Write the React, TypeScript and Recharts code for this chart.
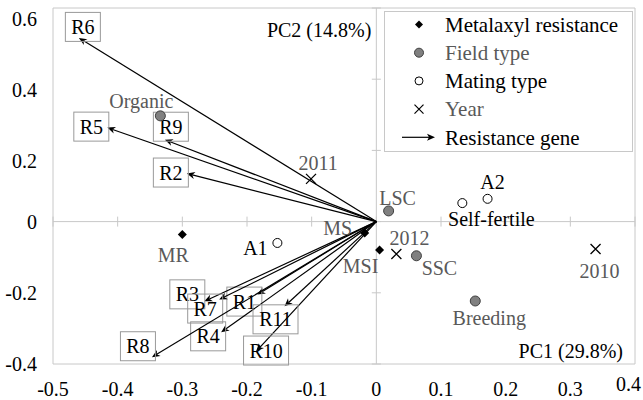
import { ScatterChart, Scatter, XAxis, YAxis, ReferenceLine, ReferenceArea, Legend } from "recharts";

const FONT = "Liberation Serif, DejaVu Serif, serif";
const GRAY_TEXT = "#595959";
const AXIS_GRAY = "#c8c8c8";

const xTicks = [-0.5, -0.4, -0.3, -0.2, -0.1, 0, 0.1, 0.2, 0.3, 0.4];
const yTicks = [-0.4, -0.2, 0, 0.2, 0.4, 0.6];

// resistance gene loadings (arrow tips)
const geneNames = ["R1", "R2", "R3", "R4", "R5", "R6", "R7", "R8", "R9", "R10", "R11"];
const geneX = [-0.184, -0.293, -0.266, -0.24, -0.416, -0.46, -0.243, -0.347, -0.327, -0.186, -0.142];
const geneY = [-0.205, 0.135, -0.224, -0.311, 0.264, 0.516, -0.219, -0.381, 0.23, -0.365, -0.238];

const metalaxylNames = ["MR", "MS", "MSI"];
const metalaxylX = [-0.3, -0.018, 0.005];
const metalaxylY = [-0.036, -0.032, -0.08];

const fieldNames = ["Organic", "LSC", "SSC", "Breeding"];
const fieldX = [-0.334, 0.019, 0.062, 0.153];
const fieldY = [0.297, 0.03, -0.096, -0.223];

const matingNames = ["A1", "A2", "Self-fertile"];
const matingX = [-0.153, 0.172, 0.133];
const matingY = [-0.06, 0.064, 0.052];

const yearNames = ["2010", "2011", "2012"];
const yearX = [0.339, -0.101, 0.031];
const yearY = [-0.077, 0.12, -0.091];

const toPoints = (names: string[], xs: number[], ys: number[]) =>
  names.map((name, i) => ({ name, x: xs[i], y: ys[i] }));

// label placement, pixels from the marker
const labelOffset: Record<string, [number, number]> = {
  MR: [-9, 21], MS: [-27, -5], MSI: [-19, 16],
  Organic: [-19, -15], LSC: [9, -13], SSC: [23, 12], Breeding: [14, 17],
  A1: [-22, 5], A2: [5, -17], "Self-fertile": [29, 16],
  "2010": [4, 22], "2011": [7, -16], "2012": [13, -16],
};
const boxOffset: Record<string, [number, number]> = {
  R1: [-13, 7], R2: [-16, -1], R3: [-17, -7], R4: [-13, 4], R5: [-16, -1], R6: [4, -11],
  R7: [-14, 9], R8: [-14, -11], R9: [6, -13], R10: [10, -1], R11: [-9, 13],
};

const txt = { fontFamily: FONT, fontSize: 20 };

function PointLabel({ cx, cy, name, color }: { cx: number; cy: number; name: string; color: string }) {
  const [dx, dy] = labelOffset[name] || [0, 0];
  return (
    <text x={cx + dx} y={cy + dy} dy="0.35em" textAnchor="middle" style={txt} fill={color}>
      {name}
    </text>
  );
}

const diamond = (p: any) => (
  <g>
    <polygon points={`${p.cx},${p.cy - 4.5} ${p.cx + 4.5},${p.cy} ${p.cx},${p.cy + 4.5} ${p.cx - 4.5},${p.cy}`} fill="#000" />
    <PointLabel cx={p.cx} cy={p.cy} name={p.payload.name} color={GRAY_TEXT} />
  </g>
);
const grayDot = (p: any) => (
  <g>
    <circle cx={p.cx} cy={p.cy} r={5} fill="#808080" stroke="#404040" strokeWidth={1} />
    <PointLabel cx={p.cx} cy={p.cy} name={p.payload.name} color={GRAY_TEXT} />
  </g>
);
const openDot = (p: any) => (
  <g>
    <circle cx={p.cx} cy={p.cy} r={4.5} fill="#fff" stroke="#000" strokeWidth={1} />
    <PointLabel cx={p.cx} cy={p.cy} name={p.payload.name} color="#000" />
  </g>
);
const cross = (p: any) => (
  <g>
    <path d={`M${p.cx - 5},${p.cy - 5}L${p.cx + 5},${p.cy + 5}M${p.cx - 5},${p.cy + 5}L${p.cx + 5},${p.cy - 5}`} stroke="#000" strokeWidth={1.3} />
    <PointLabel cx={p.cx} cy={p.cy} name={p.payload.name} color={GRAY_TEXT} />
  </g>
);

function Arrow(props: any) {
  const { x1, y1, x2, y2, name } = props;
  const ang = Math.atan2(y2 - y1, x2 - x1);
  const len = 8, hw = 3.5;
  const bx = x2 - len * Math.cos(ang), by = y2 - len * Math.sin(ang);
  const nx = x2 - len * 0.7 * Math.cos(ang), ny = y2 - len * 0.7 * Math.sin(ang);
  const px = -Math.sin(ang) * hw, py = Math.cos(ang) * hw;
  const [ox, oy] = boxOffset[name] || [0, 0];
  const w = name.length > 2 ? 45 : 35;
  const h = 29;
  return (
    <g>
      <line x1={x1} y1={y1} x2={nx} y2={ny} stroke="#000" strokeWidth={1.2} />
      <polygon points={`${x2},${y2} ${bx + px},${by + py} ${nx},${ny} ${bx - px},${by - py}`} fill="#000" />
      <rect x={x2 + ox - w / 2} y={y2 + oy - h / 2} width={w} height={h} fill="none" stroke="#999" strokeWidth={1} />
      <text x={x2 + ox} y={y2 + oy} dy="0.35em" textAnchor="middle" style={txt} fill="#000">
        {name}
      </text>
    </g>
  );
}

// x tick labels, kept inside the picture at the right edge
function XTick({ x, payload }: any) {
  const v = String(payload.value);
  const right = x + 13 > 641;
  // baseline just above the bottom edge, as in the original
  return (
    <text x={right ? 641 : x} y={right ? 391 : 396} textAnchor={right ? "end" : "middle"} style={txt} fill="#000">
      {v}
    </text>
  );
}

// y tick labels; the positive ones sit a little below their tick in the original
function YTick({ x, y, payload }: any) {
  const shift = payload.value > 0 ? 11 : 0;
  return (
    <text x={x} y={y + shift} dy="0.35em" textAnchor="end" style={txt} fill="#000">
      {String(payload.value)}
    </text>
  );
}

const legendItems = [
  { label: "Metalaxyl resistance", kind: "diamond", color: "#000" },
  { label: "Field type", kind: "gray", color: GRAY_TEXT },
  { label: "Mating type", kind: "open", color: "#000" },
  { label: "Year", kind: "cross", color: GRAY_TEXT },
  { label: "Resistance gene", kind: "arrow", color: "#000" },
];

function LegendBox() {
  return (
    <div style={{ width: 249, height: 141, boxSizing: "border-box", border: `1px solid ${AXIS_GRAY}`, background: "#fff" }}>
      <svg width={247} height={139} style={{ display: "block" }}>
        {legendItems.map((it, i) => {
          const y = 12.5 + i * 28.2;
          const sx = 34;
          let sym;
          if (it.kind === "diamond") sym = <polygon points={`${sx},${y - 4} ${sx + 4},${y} ${sx},${y + 4} ${sx - 4},${y}`} fill="#000" />;
          else if (it.kind === "gray") sym = <circle cx={sx} cy={y} r={4.5} fill="#808080" stroke="#404040" />;
          else if (it.kind === "open") sym = <circle cx={sx} cy={y} r={4} fill="#fff" stroke="#000" />;
          else if (it.kind === "cross") sym = <path d={`M${sx - 4.5},${y - 4.5}L${sx + 4.5},${y + 4.5}M${sx - 4.5},${y + 4.5}L${sx + 4.5},${y - 4.5}`} stroke="#000" strokeWidth={1.2} />;
          else
            sym = (
              <g>
                <line x1={17} y1={y} x2={44} y2={y} stroke="#000" strokeWidth={1.2} />
                <polygon points={`${50},${y} ${42},${y - 3.5} ${44},${y} ${42},${y + 3.5}`} fill="#000" />
              </g>
            );
          return (
            <g key={it.label}>
              {sym}
              <text x={60} y={y} dy="0.35em" style={{ ...txt, fontSize: 21 }} fill={it.color}>
                {it.label}
              </text>
            </g>
          );
        })}
      </svg>
    </div>
  );
}

export default function App() {
  return (
    <div style={{ position: "absolute", left: 0, top: 0, background: "#fff", fontFamily: FONT }}>
      <ScatterChart width={643} height={400} margin={{ top: 8, right: 8, bottom: 0, left: 8 }}>
        <XAxis type="number" dataKey="x" domain={[-0.5, 0.4]} ticks={xTicks} interval={0} axisLine={false} tickLine={false}
          tickSize={0} height={36} tick={<XTick />} />
        <YAxis type="number" dataKey="y" domain={[-0.4, 0.6]} ticks={yTicks} interval={0} axisLine={false} tickLine={false}
          tickSize={0} tickMargin={16} width={45} tick={<YTick />} />
        <ReferenceArea x1={-0.5} x2={0.4} y1={-0.4} y2={0.6} fill="none" stroke={AXIS_GRAY} strokeWidth={1}
          label={(p: any) => (
            <text x={p.viewBox.x + p.viewBox.width - 12} y={p.viewBox.y + p.viewBox.height - 6} textAnchor="end" style={txt} fill="#000">
              PC1 (29.8%)
            </text>
          )} />
        <ReferenceLine y={0} stroke={AXIS_GRAY} strokeWidth={1} />
        <ReferenceLine x={0} stroke={AXIS_GRAY} strokeWidth={1}
          label={(p: any) => (
            <text x={p.viewBox.x - 5} y={p.viewBox.y + 29} textAnchor="end" style={txt} fill="#000">
              PC2 (14.8%)
            </text>
          )} />
        {xTicks.map((t) => (
          <ReferenceLine key={"xt" + t} segment={[{ x: t, y: -0.014 }, { x: t, y: 0.014 }]} stroke={AXIS_GRAY} />
        ))}
        {yTicks.map((t) => (
          <ReferenceLine key={"yt" + t} segment={[{ x: -0.007, y: t }, { x: 0.007, y: t }]} stroke={AXIS_GRAY} />
        ))}
        {geneNames.map((g, i) => (
          <ReferenceLine key={g} segment={[{ x: 0, y: 0 }, { x: geneX[i], y: geneY[i] }]}
            shape={(p: any) => <Arrow {...p} name={g} />} />
        ))}
        <Scatter name="Metalaxyl resistance" data={toPoints(metalaxylNames, metalaxylX, metalaxylY)} shape={diamond} isAnimationActive={false} />
        <Scatter name="Field type" data={toPoints(fieldNames, fieldX, fieldY)} shape={grayDot} isAnimationActive={false} />
        <Scatter name="Mating type" data={toPoints(matingNames, matingX, matingY)} shape={openDot} isAnimationActive={false} />
        <Scatter name="Year" data={toPoints(yearNames, yearX, yearY)} shape={cross} isAnimationActive={false} />
        <Legend layout="horizontal" verticalAlign="middle" align="center" content={() => <LegendBox />}
          wrapperStyle={{ left: 384, top: 11, width: 249, height: 141 }} />
      </ScatterChart>
    </div>
  );
}
